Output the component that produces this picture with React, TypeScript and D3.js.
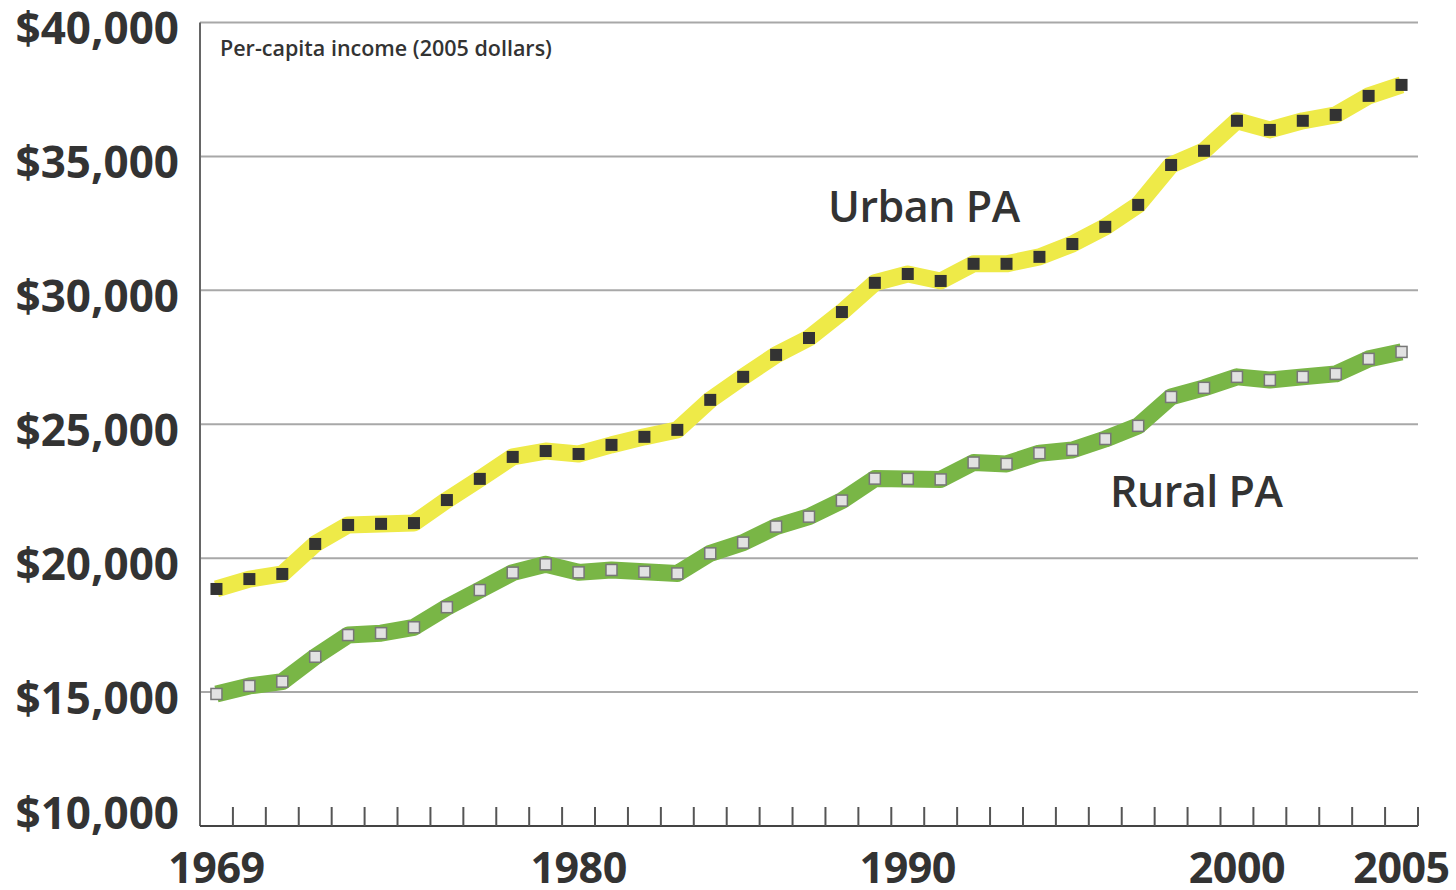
import React from "react";
import * as d3 from "d3";

const years: number[] = d3.range(1969, 2006);
const urbanIncome: number[] = [
  18850, 19220, 19410, 20530, 21240, 21280, 21310, 22170, 22960, 23780,
  24000, 23890, 24230, 24530, 24790, 25910, 26770, 27590, 28220, 29190,
  30280, 30610, 30350, 30990, 30990, 31250, 31730, 32370, 33190, 34680,
  35210, 36330, 35990, 36330, 36550, 37260, 37670,
];
const ruralIncome: number[] = [
  14930, 15230, 15390, 16320, 17130, 17200, 17420, 18170, 18810, 19460,
  19770, 19470, 19560, 19490, 19430, 20180, 20580, 21180, 21550, 22150,
  22970, 22960, 22940, 23570, 23520, 23920, 24040, 24450, 24940, 26020,
  26360, 26770, 26650, 26770, 26880, 27440, 27700,
];
const yTicks: number[] = [10000, 15000, 20000, 25000, 30000, 35000, 40000];
const xLabels: number[] = [1969, 1980, 1990, 2000, 2005];
const seriesNames = { urban: "Urban PA", rural: "Rural PA" };
const subtitle = "Per-capita income (2005 dollars)";

const W = 1456;
const H = 890;
const FONT = "'Open Sans', 'Noto Sans', sans-serif";

export default function App() {
  const x = d3.scaleLinear().domain([1968.5, 2005.5]).range([200, 1418]);
  const y = d3.scaleLinear().domain([10000, 40000]).range([826, 22.5]);
  const line = d3
    .line<number>()
    .x((_, i) => x(years[i]))
    .y((d) => y(d));
  const tickYears = d3.range(1969.5, 2006, 1);
  const fmt = (v: number) => "$" + d3.format(",")(v);
  const ms = 12;

  return (
    <svg
      width={W}
      height={H}
      style={{ position: "absolute", left: 0, top: 0, background: "#fff" }}
    >
      {/* gridlines */}
      {yTicks.slice(1).map((t) => (
        <line
          key={t}
          x1={x(1968.5)}
          x2={x(2005.5)}
          y1={y(t)}
          y2={y(t)}
          stroke="#a8a8a8"
          strokeWidth={2}
        />
      ))}
      {/* left axis */}
      <line x1={x(1968.5)} x2={x(1968.5)} y1={y(40000)} y2={y(10000)} stroke="#666" strokeWidth={2} />
      {/* bottom axis */}
      <line x1={x(1968.5)} x2={x(2005.5)} y1={y(10000)} y2={y(10000)} stroke="#444" strokeWidth={2} />
      {tickYears.map((t) => (
        <line key={t} x1={x(t)} x2={x(t)} y1={y(10000)} y2={y(10000) - 19} stroke="#555" strokeWidth={2} />
      ))}
      {/* y labels */}
      {yTicks.map((t) => (
        <text
          key={t}
          x={179}
          y={t === 10000 ? y(t) - 13 : y(t) + 6}
          dy="0.36em"
          textAnchor="end"
          fontFamily={FONT}
          fontWeight={700}
          fontSize={44}
          fill="#333"
        >
          {fmt(t)}
        </text>
      ))}
      {/* x labels */}
      {xLabels.map((t) => (
        <text
          key={t}
          x={x(t)}
          y={883}
          textAnchor="middle"
          fontFamily={FONT}
          fontWeight={700}
          fontSize={43}
          fill="#333"
          letterSpacing={-0.5}
        >
          {t}
        </text>
      ))}
      <text x={220} y={56} fontFamily={FONT} fontWeight={600} fontSize={21.5} fill="#333">
        {subtitle}
      </text>
      {/* lines */}
      <path d={line(urbanIncome) || ""} fill="none" stroke="#eeea48" strokeWidth={17} strokeLinejoin="round" />
      <path d={line(ruralIncome) || ""} fill="none" stroke="#79b646" strokeWidth={17} strokeLinejoin="round" />
      {urbanIncome.map((v, i) => (
        <rect
          key={"u" + i}
          x={x(years[i]) - ms / 2}
          y={y(v) - ms / 2}
          width={ms}
          height={ms}
          fill="#333"
        />
      ))}
      {ruralIncome.map((v, i) => (
        <rect
          key={"r" + i}
          x={x(years[i]) - (ms - 1) / 2}
          y={y(v) - (ms - 1) / 2}
          width={ms - 1}
          height={ms - 1}
          fill="#e2e2e2"
          stroke="#777"
          strokeWidth={1.5}
        />
      ))}
      {/* series labels */}
      <text x={828} y={222} fontFamily={FONT} fontWeight={600} fontSize={43} fill="#333" letterSpacing={-0.5}>
        {seriesNames.urban}
      </text>
      <text x={1110} y={507} fontFamily={FONT} fontWeight={600} fontSize={43} fill="#333" letterSpacing={-0.5}>
        {seriesNames.rural}
      </text>
    </svg>
  );
}
